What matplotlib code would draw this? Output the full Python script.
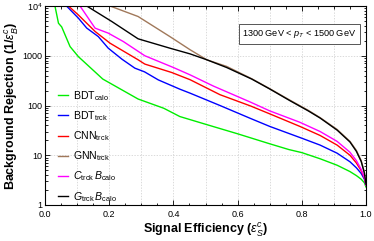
import numpy as np
import matplotlib
matplotlib.use("Agg")
import matplotlib.pyplot as plt
from matplotlib.ticker import MultipleLocator, LogLocator, NullFormatter

plt.rcParams['font.family'] = ['Liberation Sans', 'DejaVu Sans']
plt.rcParams['mathtext.fontset'] = 'custom'
plt.rcParams['mathtext.rm'] = 'Liberation Sans'
plt.rcParams['mathtext.it'] = 'Liberation Sans:italic'
plt.rcParams['mathtext.bf'] = 'Liberation Sans:bold'

# signal efficiency / background rejection
eff_bdt_calo = [0.031, 0.042, 0.052, 0.078, 0.104, 0.18, 0.29, 0.37, 0.42, 0.5, 0.6, 0.7, 0.76, 0.8, 0.857, 0.91, 0.95, 0.97, 0.985, 0.995, 1.0]
rej_bdt_calo = [10000, 4500, 3800, 1530, 960, 340, 135, 88, 60, 42, 27, 17, 13, 11.3, 8.5, 6.3, 4.7, 3.9, 3.3, 2.8, 2.3]

eff_bdt_trck = [0.067, 0.104, 0.13, 0.166, 0.197, 0.24, 0.28, 0.31, 0.353, 0.42, 0.452, 0.545, 0.64, 0.7, 0.8, 0.857, 0.91, 0.95, 0.97, 0.985, 0.995, 1.0]
rej_bdt_trck = [10000, 5700, 3600, 2430, 1420, 850, 563, 475, 327, 213, 177, 100, 55, 38, 22, 16, 11, 7.4, 5.6, 4.3, 3.3, 2.5]

eff_cnn_trck = [0.073, 0.104, 0.156, 0.2025, 0.29, 0.311, 0.395, 0.452, 0.545, 0.64, 0.7, 0.794, 0.857, 0.91, 0.95, 0.97, 0.985, 0.995, 1.0]
rej_cnn_trck = [10000, 6600, 3080, 1790, 830, 680, 460, 330, 165, 98, 68, 38, 25, 16, 10, 7, 4.9, 3.5, 2.5]

eff_gnn_trck = [0.2025, 0.29, 0.389, 0.452, 0.504, 0.566, 0.644, 0.7, 0.763, 0.82, 0.857, 0.91, 0.95, 0.97, 0.985, 0.995, 1.0]
rej_gnn_trck = [10000, 6150, 2430, 1320, 830, 610, 345, 218, 128, 80, 57, 33, 19, 12.5, 7.8, 4.5, 2.6]

eff_c_b = [0.109, 0.156, 0.197, 0.244, 0.311, 0.40, 0.452, 0.525, 0.64, 0.7, 0.794, 0.857, 0.91, 0.95, 0.97, 0.985, 0.995, 1.0]
rej_c_b = [10000, 3590, 2850, 1930, 1000, 580, 413, 245, 117, 78, 46, 30, 19, 11.5, 7.8, 5.2, 3.6, 2.5]

eff_g_b = [0.13, 0.208, 0.29, 0.389, 0.452, 0.504, 0.566, 0.644, 0.7, 0.763, 0.82, 0.857, 0.91, 0.95, 0.97, 0.985, 0.995, 1.0]
rej_g_b = [10000, 4880, 2190, 1420, 1090, 830, 580, 340, 215, 125, 78, 56, 32, 18.5, 12, 7.5, 4.4, 2.6]

curves = [
    (eff_bdt_calo, rej_bdt_calo, '#00ee00', r'BDT$_{\rm calo}$'),
    (eff_bdt_trck, rej_bdt_trck, '#0000ff', r'BDT$_{\rm trck}$'),
    (eff_cnn_trck, rej_cnn_trck, '#ff0000', r'CNN$_{\rm trck}$'),
    (eff_gnn_trck, rej_gnn_trck, '#a0785a', r'GNN$_{\rm trck}$'),
    (eff_c_b, rej_c_b, '#ff00ff', r'$C_{\rm trck}\,B_{\rm calo}$'),
    (eff_g_b, rej_g_b, '#000000', r'$G_{\rm trck}\,B_{\rm calo}$'),
]

fig = plt.figure(figsize=(3.74, 2.41), dpi=100)
ax = fig.add_axes([45/374, 36/241, 321/374, 199/241])

for x, y, c, lab in curves:
    ax.plot(x, y, color=c, lw=1.0, label=lab)

ax.set_yscale('log')
ax.set_xlim(0, 1)
ax.set_ylim(1, 1e4)
ax.set_xticks([0, 0.2, 0.4, 0.6, 0.8, 1.0])
ax.set_xticklabels(['0.0', '0.2', '0.4', '0.6', '0.8', '1.0'])
ax.xaxis.set_minor_locator(MultipleLocator(0.05))
ax.set_yticks([1, 10, 100, 1000, 1e4])
ax.set_yticklabels(['1', '10', '100', '1000', r'10$^4$'])
ax.yaxis.set_minor_locator(LogLocator(base=10, subs=np.arange(2, 10)))
ax.yaxis.set_minor_formatter(NullFormatter())
ax.tick_params(which='both', direction='in', top=True, right=True, labelsize=6.5, width=0.6)
ax.tick_params(axis='x', pad=3.5)
ax.tick_params(axis='y', pad=2)
ax.tick_params(which='major', length=3.5)
ax.tick_params(which='minor', length=1.8)

for gx in np.arange(0.1, 1.0, 0.1):
    ax.axvline(gx, color='#cccccc', lw=0.5, ls=(0, (2, 2)), zorder=0)
for gy in [10, 100, 1000]:
    ax.axhline(gy, color='#cccccc', lw=0.5, ls=(0, (2, 2)), zorder=0)

for s in ax.spines.values():
    s.set_linewidth(0.8)

ax.set_xlabel(r'Signal Efficiency ($\epsilon_S^c$)', fontsize=9, fontweight='bold', labelpad=2)
ax.set_ylabel(r'Background Rejection (1/$\epsilon_B^c$)', fontsize=9, fontweight='bold', labelpad=1)

ax.text(0.97, 0.86, r'1300 GeV < $p_T$ < 1500 GeV', transform=ax.transAxes, fontsize=6.6,
        ha='right', va='center',
        bbox=dict(boxstyle='square,pad=0.4', fc='white', ec='#555555', lw=0.7))

ax.legend(loc='lower left', bbox_to_anchor=(0.015, -0.035), frameon=False, fontsize=7.6,
          handlelength=0.9, handletextpad=0.5, labelspacing=0.6, borderaxespad=0.4)

fig.savefig('out.png', dpi=100)
